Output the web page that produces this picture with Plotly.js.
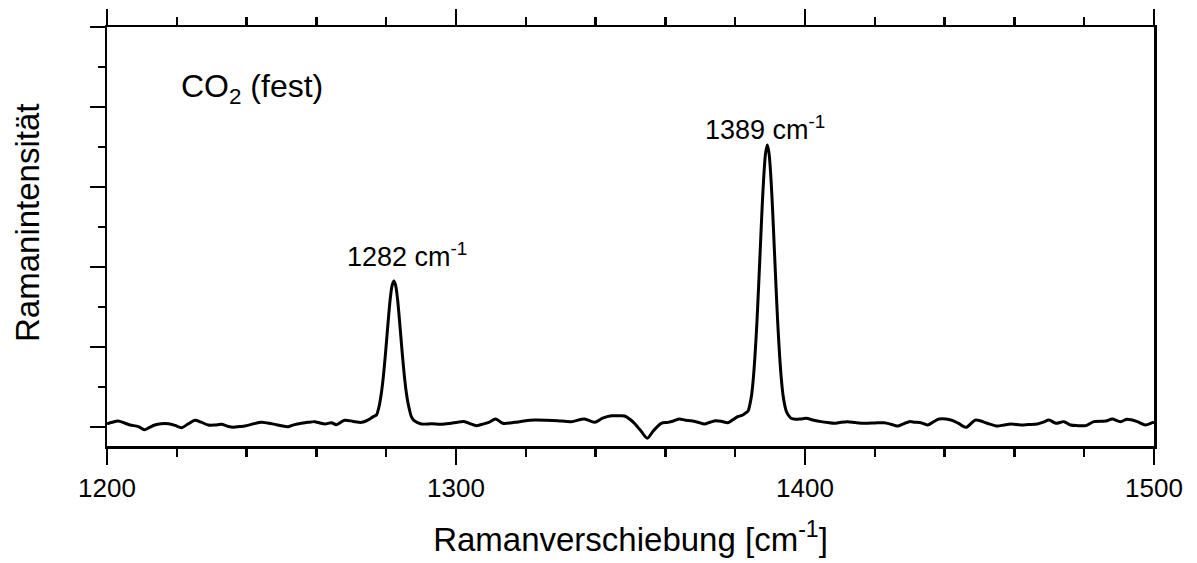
<!DOCTYPE html>
<html>
<head>
<meta charset="utf-8">
<script src="https://cdn.plot.ly/plotly-3.0.1.min.js"></script>
<style>html,body{margin:0;padding:0;background:#fff;}#chart{width:1197px;height:563px;}</style>
</head>
<body>
<div id="chart"></div>
<script>
// Raman shift (cm^-1)
const shift = [
1200.0,1201.5,1203.2,1205.0,1206.6,1209.0,1210.7,1212.2,1213.7,1215.5,1217.6,1219.5,1221.4,1223.3,1225.2,1227.0,1229.0,1231.0,1232.8,1234.5,1236.2,1238.0,1239.5,1242.0,1244.3,1246.0,1248.1,1250.0,1251.9,1253.8,1255.7,1257.5,1259.5,1261.0,1262.4,1264.3,1265.7,1268.1,1270.5,1272.9,1274.2,1275.3,1276.3,
1277.2,1277.7,1278.2,1278.7,1279.2,1279.7,1280.2,1280.7,1281.2,1281.7,1282.2,1282.7,1283.2,1283.7,1284.2,1284.7,1285.2,1285.7,1286.2,1286.7,1287.2,1288.0,
1290.1,1293.0,1295.8,1299.0,1302.5,1304.2,1305.8,1307.5,1309.2,1311.4,1313.4,1316.8,1319.5,1322.5,1326.0,1329.2,1333.0,1336.8,1339.7,1342.0,1344.5,1346.5,1348.3,1350.0,1351.1,1353.0,1354.8,1356.5,1358.8,1360.7,1362.3,1364.0,1365.7,1367.4,1369.3,1371.2,1372.8,1374.5,1376.2,1377.9,1379.3,1380.7,1382.2,1383.1,
1383.7,1384.2,1384.7,1385.2,1385.7,1386.2,1386.7,1387.2,1387.7,1388.2,1388.7,1389.2,1389.7,1390.2,1390.7,1391.2,1391.7,1392.2,1392.7,1393.2,1393.7,1394.2,1394.7,1395.2,1396.0,
1397.4,1398.8,1400.3,1402.5,1404.6,1406.5,1408.4,1410.3,1412.2,1414.5,1417.0,1420.0,1422.7,1424.6,1426.5,1428.2,1429.9,1431.5,1433.2,1435.1,1436.8,1438.4,1441.8,1444.0,1446.1,1448.9,1452.0,1455.1,1457.0,1459.0,1461.8,1464.0,1466.6,1468.3,1469.9,1471.9,1474.2,1476.1,1478.2,1480.4,1482.8,1486.2,1488.0,1490.4,1492.3,1495.2,1497.5,1499.5,1500.0
];
// Raman intensity (arbitrary units)
const intensity = [
0.040,0.060,0.075,0.050,0.025,0.005,-0.035,-0.005,0.025,0.040,0.040,0.020,-0.008,0.040,0.085,0.060,0.025,0.025,0.033,0.010,-0.004,0.005,0.012,0.040,0.058,0.050,0.033,0.015,0.004,0.030,0.046,0.058,0.067,0.050,0.037,0.054,0.029,0.085,0.070,0.058,0.075,0.100,0.130,
0.150,0.210,0.310,0.450,0.640,0.870,1.130,1.390,1.620,1.770,1.825,1.770,1.620,1.390,1.130,0.870,0.640,0.450,0.310,0.210,0.130,0.080,
0.038,0.040,0.035,0.050,0.067,0.040,0.017,0.035,0.054,0.100,0.046,0.058,0.075,0.087,0.085,0.079,0.067,0.100,0.058,0.110,0.140,0.140,0.137,0.090,0.046,-0.050,-0.140,-0.050,0.046,0.058,0.075,0.100,0.085,0.079,0.060,0.037,0.060,0.079,0.070,0.054,0.090,0.129,0.150,0.179,
0.200,0.280,0.400,0.610,0.910,1.290,1.750,2.240,2.730,3.140,3.420,3.525,3.420,3.140,2.730,2.240,1.750,1.290,0.910,0.610,0.400,0.270,0.190,0.150,0.110,
0.096,0.100,0.108,0.085,0.067,0.055,0.046,0.060,0.067,0.055,0.046,0.050,0.054,0.035,0.012,0.040,0.067,0.060,0.054,0.025,0.065,0.100,0.087,0.045,-0.004,0.087,0.050,0.012,0.025,0.037,0.025,0.030,0.037,0.060,0.087,0.046,0.067,0.025,0.017,0.017,0.067,0.075,0.100,0.067,0.096,0.067,0.025,0.054,0.060
];
const xTickVals = [1200, 1300, 1400, 1500];
const xTickText = ["1200", "1300", "1400", "1500"];
const peakPos = [1282, 1389];
const peakLabelX = [1286.0, 1388.5];
const peakLabelY = [2.15, 3.74];

const FONT = "Liberation Sans, Arial, sans-serif";

const traces = [
  {x: shift, y: intensity, type: "scatter", mode: "lines",
   line: {color: "#000", width: 3, shape: "spline", smoothing: 0.8},
   hoverinfo: "skip", showlegend: false},
  {x: [1200, 1500], y: [0, 0], xaxis: "x2", yaxis: "y", type: "scatter", mode: "lines",
   line: {color: "rgba(0,0,0,0)", width: 0}, hoverinfo: "skip", showlegend: false}
];

const annotations = [
  {x: 1220.5, y: 4.23, xref: "x", yref: "y", xanchor: "left", yanchor: "middle",
   text: "CO<sub>2</sub> (fest)", showarrow: false, font: {family: FONT, size: 32, color: "#000"}},
  {x: (27 - 107) / 1047, y: 4.05, xref: "paper", yref: "y", xanchor: "center", yanchor: "middle",
   textangle: -90, text: "Ramanintensität", showarrow: false, font: {family: FONT, size: 33, color: "#000"}}
];
for (let i = 0; i < peakPos.length; i++) {
  annotations.push({x: peakLabelX[i], y: peakLabelY[i], xref: "x", yref: "y",
    xanchor: "center", yanchor: "middle", showarrow: false,
    text: peakPos[i] + " cm<sup>-1</sup>", font: {family: FONT, size: 27, color: "#000"}});
}
// y title centred at pixel ~223: value (427-223)/80 = 2.55
annotations[1].y = 2.55;

const layout = {
  width: 1197, height: 563,
  margin: {l: 107, r: 43, t: 27, b: 117},
  paper_bgcolor: "#fff", plot_bgcolor: "#fff",
  font: {family: FONT, color: "#000"},
  showlegend: false,
  xaxis: {
    range: [1200, 1500], tickmode: "array", tickvals: xTickVals, ticktext: xTickText,
    ticks: "outside", ticklen: 16, tickwidth: 2.5, tickcolor: "#000",
    minor: {dtick: 20, tick0: 1200, ticks: "outside", ticklen: 8, tickwidth: 2.5, tickcolor: "#000", showgrid: false},
    showline: true, linewidth: 2.5, linecolor: "#000", mirror: false,
    showgrid: false, zeroline: false,
    tickfont: {family: FONT, size: 26, color: "#000"}, ticklabelstandoff: 1,
    title: {text: "Ramanverschiebung [cm<sup>-1</sup>]", font: {family: FONT, size: 33, color: "#000"}, standoff: 26}
  },
  xaxis2: {
    overlaying: "x", side: "top", range: [1200, 1500], tickmode: "array", tickvals: xTickVals,
    showticklabels: false,
    ticks: "outside", ticklen: 16, tickwidth: 2.5, tickcolor: "#000",
    minor: {dtick: 20, tick0: 1200, ticks: "outside", ticklen: 8, tickwidth: 2.5, tickcolor: "#000", showgrid: false},
    showline: true, linewidth: 2.5, linecolor: "#000",
    showgrid: false, zeroline: false
  },
  yaxis: {
    range: [-0.2375, 5], tick0: 0, dtick: 1, tickmode: "linear",
    ticks: "outside", ticklen: 15, tickwidth: 2.5, tickcolor: "#000",
    minor: {dtick: 0.5, tick0: 0, ticks: "outside", ticklen: 7, tickwidth: 2.5, tickcolor: "#000", showgrid: false},
    showticklabels: false,
    showline: true, linewidth: 2.5, linecolor: "#000", mirror: true,
    showgrid: false, zeroline: false
  },
  annotations: annotations
};

Plotly.newPlot("chart", traces, layout, {staticPlot: true, displayModeBar: false});
</script>
</body>
</html>
